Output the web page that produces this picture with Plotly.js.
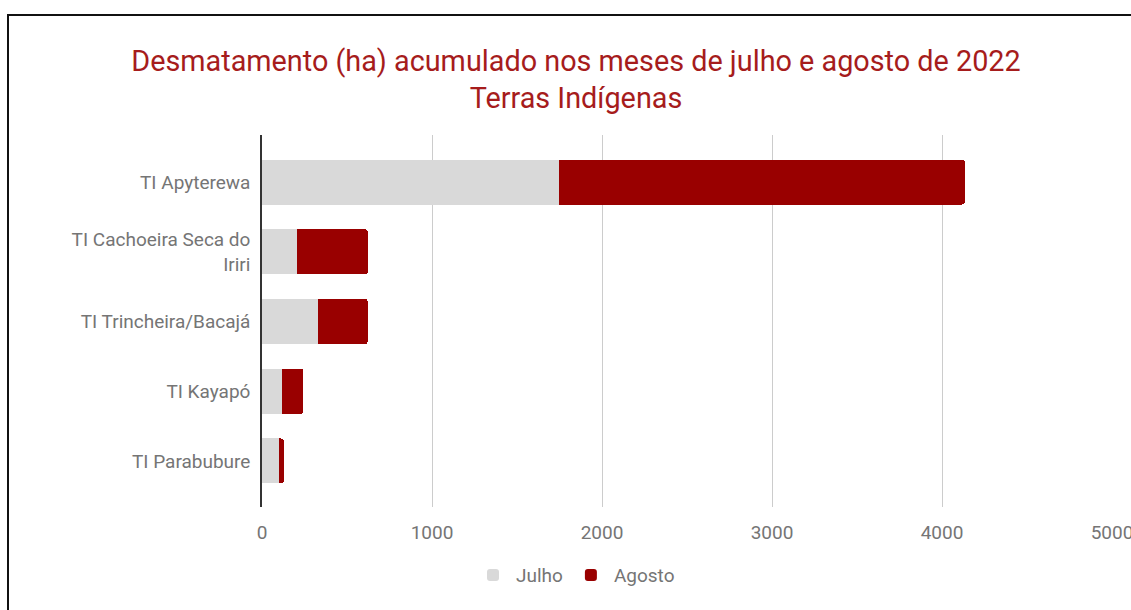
<!DOCTYPE html>
<html>
<head>
<meta charset="utf-8">
<script src="https://cdn.plot.ly/plotly-3.0.1.min.js"></script>
<style>
html,body{margin:0;padding:0;background:#fff;overflow:hidden;}
#wrap{position:absolute;left:0;top:0;width:1131px;height:610px;overflow:hidden;}
#chart{position:absolute;left:0;top:0;width:1170px;height:610px;}
#frame{position:absolute;left:7px;top:14px;width:1200px;height:700px;border:2px solid #111;pointer-events:none;box-sizing:border-box;}
</style>
</head>
<body>
<div id="wrap">
<div id="chart"></div>
<div id="frame"></div>
</div>
<script>
const categories = ["TI Apyterewa", "TI Cachoeira Seca do<br>Iriri", "TI Trincheira/Bacajá", "TI Kayapó", "TI Parabubure"];
const julho = [1747, 204, 328, 120, 102];
const agosto = [2388, 418, 294, 123, 27];
const xTicks = [0, 1000, 2000, 3000, 4000, 5000];

const traces = [
  {type:'bar', orientation:'h', name:'Julho', y:categories, x:julho,
   marker:{color:'#d9d9d9', cornerradius:3}, width:0.645, hoverinfo:'x+y'},
  {type:'bar', orientation:'h', name:'Agosto', y:categories, x:agosto,
   marker:{color:'#990000', cornerradius:3}, width:0.645, hoverinfo:'x+y'}
];

const layout = {
  width:1170, height:610,
  margin:{l:262, r:58, t:135, b:103},
  paper_bgcolor:'#fff', plot_bgcolor:'#fff',
  barmode:'stack',
  font:{family:'Roboto, sans-serif', color:'#757575', size:19},
  title:{text:'Desmatamento (ha) acumulado nos meses de julho e agosto de 2022<br>Terras Indígenas',
         font:{family:'Roboto, sans-serif', size:28.8, color:'#a61c1c'},
         xref:'paper', x:(576-262)/850, xanchor:'center', y:0.884, yanchor:'middle'},
  xaxis:{range:[0,5000], tickvals:xTicks, ticktext:xTicks.map(String),
         showgrid:true, gridcolor:'#cccccc', gridwidth:1, zeroline:false,
         showline:false, ticks:'', ticklabelstandoff:12,
         tickfont:{size:19, color:'#757575'}, fixedrange:true},
  yaxis:{type:'category', autorange:false, range:[4.66, -0.674],
         showline:true, linecolor:'#333', linewidth:1.5, layer:'below traces',
         showgrid:false, zeroline:false, ticks:'', ticklabelstandoff:6,
         tickfont:{size:19, color:'#757575'}, fixedrange:true},
  showlegend:true,
  legend:{orientation:'h', x:(575-262)/850, xanchor:'center', y:-0.183, yanchor:'middle',
          itemwidth:36, font:{size:19, color:'#757575'}, traceorder:'normal'}
};

Plotly.newPlot('chart', traces, layout, {displayModeBar:false});
</script>
</body>
</html>
